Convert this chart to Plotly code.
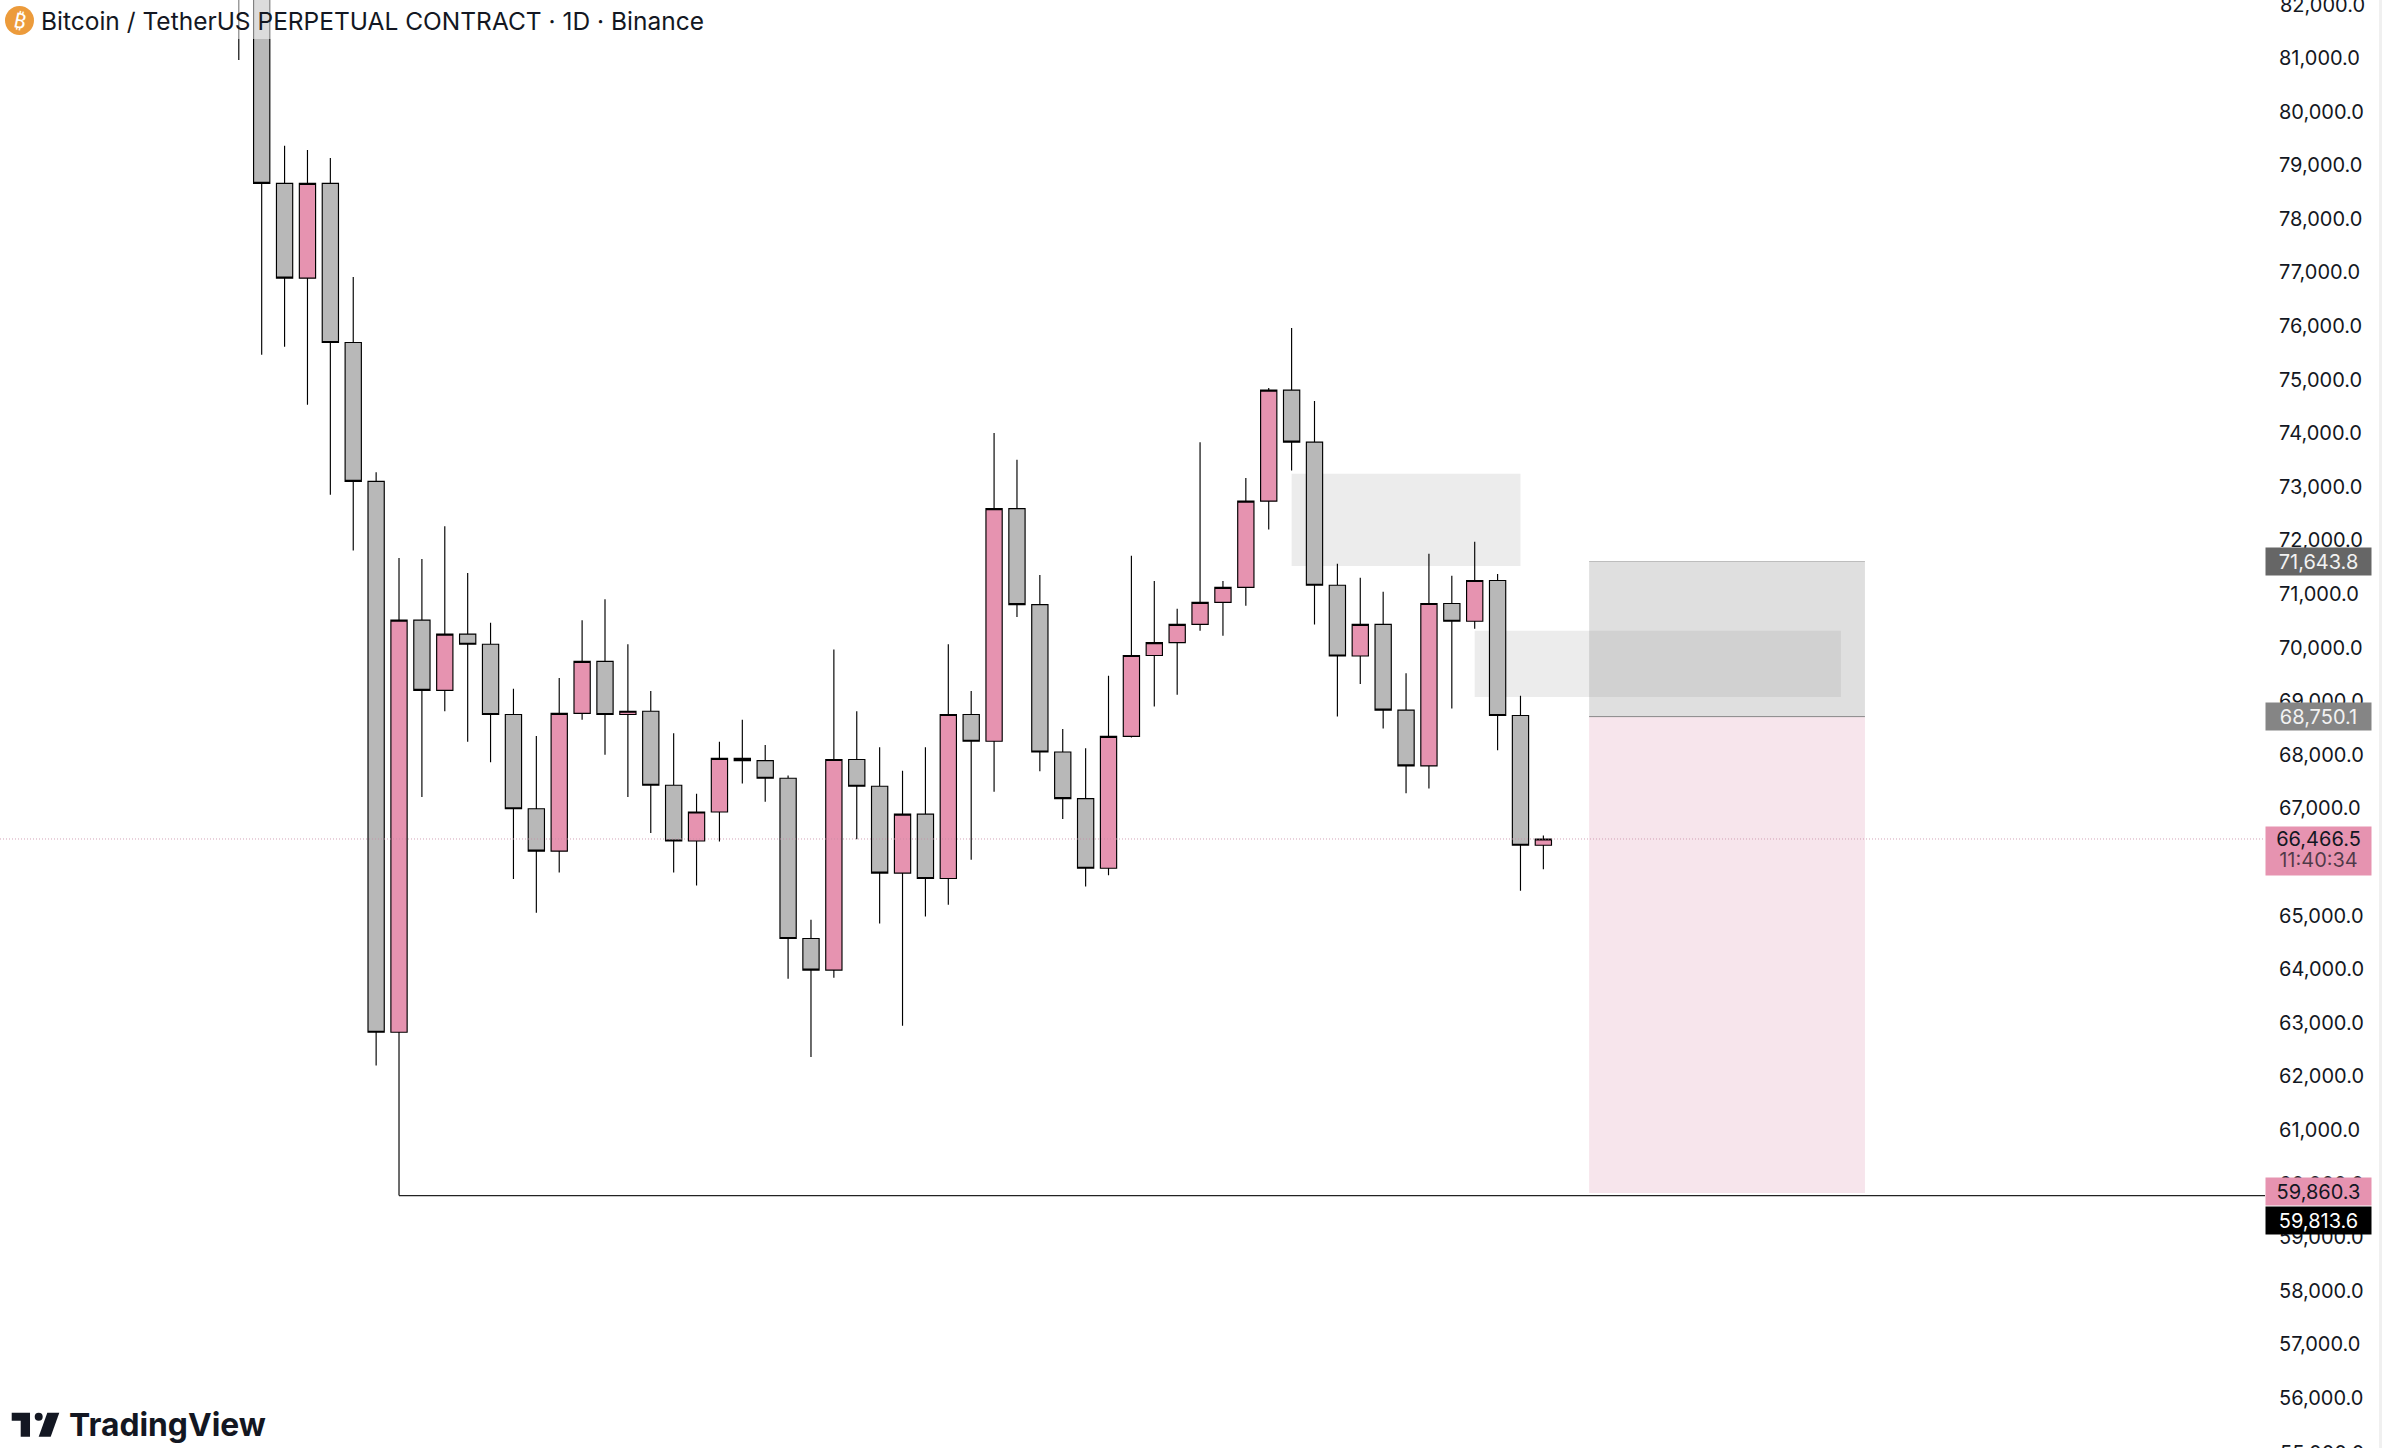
"""BTCUSDT perpetual daily candles, TradingView style screenshot."""

import plotly.graph_objects as go

W = 2382
H = 1448
AXIS_LEFT = 2265

# candles, index 0 is the one whose body is above the visible range
opens = [83600, 83200, 78700, 76930, 78700, 75730, 73140, 62860, 70550, 69240,
         70290, 70100, 68790, 67030, 66240, 68810, 69780, 68790, 68850, 67470,
         66430, 66970, 67970, 67930, 67600, 64610, 64020, 67950, 67450, 65830,
         66930, 65730, 68790, 68290, 72630, 70840, 68090, 67220, 65920, 68380,
         69890, 70130, 70470, 70880, 71160, 72770, 74840, 73870, 71200, 69880,
         70470, 68870, 67830, 70860, 70530, 71290, 68770, 66350]
highs = [84000, 83500, 79400, 79320, 79170, 76950, 73310, 71710, 71690, 72300,
         71430, 70500, 69270, 68390, 69470, 70550, 70940, 70100, 69230, 68440,
         67310, 68280, 68690, 68220, 67650, 64960, 70000, 68850, 68180, 67740,
         68180, 70100, 69230, 74040, 73540, 71390, 68520, 68160, 69510, 71750,
         71280, 70760, 73870, 71280, 73200, 74880, 76000, 74640, 71600, 71340,
         71080, 69560, 71790, 71380, 72010, 71410, 69140, 66530]
lows = [81000, 75500, 75650, 74570, 72890, 71850, 62240, 59813.6, 67250, 68850,
        68280, 67900, 65720, 65090, 65840, 68690, 68040, 67250, 66580, 65840,
        65600, 66420, 67500, 67160, 63860, 62400, 63880, 66460, 64890, 62980,
        65020, 65240, 66080, 67350, 70610, 67730, 66840, 65580, 65790, 68360,
        68940, 69160, 70350, 70260, 70820, 72240, 73340, 70470, 68750, 69360,
        68530, 67320, 67410, 68900, 70390, 68120, 65500, 65900]
closes = [83200, 78700, 76930, 78700, 75730, 73140, 62860, 70550, 69240, 70290,
          70100, 68790, 67030, 66240, 68810, 69780, 68790, 68850, 67470, 66430,
          66970, 67970, 67930, 67600, 64610, 64020, 67950, 67450, 65830, 66930,
          65730, 68790, 68290, 72630, 70840, 68090, 67220, 65920, 68380, 69890,
          70130, 70470, 70880, 71160, 72770, 74840, 73870, 71200, 69880, 70470,
          68870, 67830, 70860, 70530, 71290, 68770, 66350, 66466.5]
bars = list(range(len(opens)))

# drawings on the chart: (first bar, last bar, top price, bottom price)
zones = [(46, 56, 73280, 71560), (54, 70, 70350, 69115)]
target_bars = (59, 71.05)
target_top = 71643.8
entry = 68750.1
stop = 59860.3
last_price = 66466.5
low_ray = 59813.6
ray_start = 7

tick_values = list(range(56000, 82000, 1000))
tick_labels = [f"{v:,.1f}" for v in tick_values]

title_text = "Bitcoin / TetherUS PERPETUAL CONTRACT · 1D · Binance"
countdown = "11:40:34"

UP = "#E693B0"
DOWN = "#B8B8B8"
AXIS_FONT = dict(family="Inter", size=20, color="#131722")


# paper x runs over the plot area only, which stops at the price axis
def px_x(x):
    return x / AXIS_LEFT


def px_y(y):
    return 1 - y / H


fig = go.Figure()
fig.add_trace(
    go.Candlestick(
        x=bars,
        open=opens,
        high=highs,
        low=lows,
        close=closes,
        increasing=dict(fillcolor=UP, line=dict(color="#000000", width=1.15)),
        decreasing=dict(fillcolor=DOWN, line=dict(color="#000000", width=1.15)),
        whiskerwidth=0,
        showlegend=False,
        hoverinfo="skip",
    )
)
# the horizontal ray from the low of the big recovery candle
fig.add_trace(
    go.Scatter(
        x=[ray_start, 89],
        y=[low_ray, low_ray],
        mode="lines",
        line=dict(color="#222222", width=1.2),
        showlegend=False,
        hoverinfo="skip",
    )
)

for first, last, top, bottom in zones:
    fig.add_shape(type="rect", x0=first, x1=last, y0=bottom, y1=top, layer="below",
                  line_width=0, fillcolor="rgba(128,128,128,0.15)")
fig.add_shape(type="rect", x0=target_bars[0], x1=target_bars[1], y0=entry, y1=target_top,
              layer="below", line_width=0, fillcolor="rgba(128,128,128,0.25)")
fig.add_shape(type="rect", x0=target_bars[0], x1=target_bars[1], y0=stop, y1=entry,
              layer="below", line_width=0, fillcolor="#F7E5EC")
fig.add_shape(type="line", x0=target_bars[0], x1=target_bars[1], y0=target_top, y1=target_top,
              layer="below", line=dict(color="#bdbdbd", width=1))
fig.add_shape(type="line", x0=target_bars[0], x1=target_bars[1], y0=entry, y1=entry,
              layer="below", line=dict(color="#888888", width=1))
fig.add_shape(type="line", xref="paper", x0=0, x1=1, y0=last_price, y1=last_price,
              line=dict(color="rgba(200,140,165,0.8)", width=1, dash="1px,2px"))

# legend strip fades whatever runs behind the title
fig.add_shape(type="rect", xref="paper", yref="paper", x0=0, x1=px_x(720), y0=px_y(39), y1=1,
              line_width=0, fillcolor="rgba(255,255,255,0.5)")
fig.add_shape(type="circle", xref="paper", yref="paper", x0=px_x(5), x1=px_x(34),
              y0=px_y(35), y1=px_y(6), line_width=0, fillcolor="#EC9B3B")
fig.add_shape(type="rect", xref="paper", yref="paper", x0=px_x(2379), x1=px_x(W), y0=0, y1=1,
              line_width=0, fillcolor="#f0f0f0")

# TradingView mark
logo_paths = [
    [(11.7, 1412.7), (30, 1412.7), (30, 1436.7), (20.7, 1436.7), (20.7, 1420.7), (11.7, 1420.7)],
    [(47.3, 1412.7), (59.3, 1412.7), (50.7, 1436.7), (38.7, 1436.7)],
]
for pts in logo_paths:
    d = "M " + " L ".join(f"{px_x(a):.5f},{px_y(b):.5f}" for a, b in pts) + " Z"
    fig.add_shape(type="path", xref="paper", yref="paper", path=d, line_width=0, fillcolor="#131722")
fig.add_shape(type="circle", xref="paper", yref="paper", x0=px_x(34.7), x1=px_x(42.7),
              y0=px_y(1420.7), y1=px_y(1412.7), line_width=0, fillcolor="#131722")

fig.add_annotation(xref="paper", yref="paper", x=px_x(39), y=px_y(21), text=title_text,
                   xanchor="left", yanchor="middle", showarrow=False,
                   font=dict(family="Inter", size=24.5, color="#131722"))
fig.add_annotation(xref="paper", yref="paper", x=px_x(19.5), y=px_y(20), text="₿", textangle=12,
                   xanchor="center", yanchor="middle", showarrow=False,
                   font=dict(family="Noto Sans", size=21, color="#ffffff"))
fig.add_annotation(xref="paper", yref="paper", x=px_x(67), y=px_y(1424), text="<b>TradingView</b>",
                   xanchor="left", yanchor="middle", showarrow=False,
                   font=dict(family="Inter", size=31.8, color="#131722"))
# top and bottom ticks are cut by the page edges and the axis would drop them
fig.add_annotation(xref="paper", yref="paper", x=px_x(2278), y=px_y(1439), text="55,000.0",
                   xanchor="left", yanchor="top", showarrow=False, font=AXIS_FONT)
fig.add_annotation(xref="paper", yref="paper", x=px_x(2278), y=px_y(4.5), text="82,000.0",
                   xanchor="left", yanchor="middle", showarrow=False, font=AXIS_FONT)


def price_label(price, text, bg, color, yshift=0, height=27):
    fig.add_annotation(xref="paper", yref="y", x=1, y=price, text=text,
                       xanchor="left", yanchor="middle", yshift=yshift, showarrow=False,
                       width=105, height=height, align="center", valign="middle",
                       borderpad=0, bgcolor=bg, font=dict(family="Inter", size=20, color=color))


price_label(target_top, f"{target_top:,.1f}", "#666666", "#f2f2f2")
price_label(entry, f"{entry:,.1f}", "#858585", "#f2f2f2")
price_label(stop, f"{stop:,.1f}", UP, "#131722", yshift=1.5)
price_label(low_ray, f"{low_ray:,.1f}", "#000000", "#ffffff", yshift=-25)
# last price box is taller, the countdown goes on its lower half
fig.add_annotation(xref="paper", yref="y", x=1, y=last_price, text=f"{last_price:,.1f}",
                   xanchor="left", yanchor="top", yshift=13, showarrow=False,
                   width=105, height=48, align="center", valign="top",
                   borderpad=0, bgcolor=UP, font=dict(family="Inter", size=20, color="#131722"))
fig.add_annotation(xref="paper", yref="y", x=1, y=last_price, text=countdown,
                   xanchor="left", yanchor="middle", yshift=-21, showarrow=False,
                   width=105, height=24, align="center", valign="middle",
                   borderpad=0, font=dict(family="Inter", size=20, color="rgba(19,23,34,0.72)"))

fig.update_layout(
    width=W,
    height=H,
    margin=dict(l=0, r=W - AXIS_LEFT, t=0, b=0, autoexpand=False),
    paper_bgcolor="#ffffff",
    plot_bgcolor="#ffffff",
    showlegend=False,
    hovermode=False,
    boxgap=0.29,
    boxgroupgap=0,
    font=dict(family="Inter"),
)
fig.update_xaxes(range=[-10.434, 88.53], visible=False, rangeslider_visible=False, fixedrange=True)
fig.update_yaxes(
    range=[55104, 82120],
    side="right",
    tickmode="array",
    tickvals=tick_values,
    ticktext=tick_labels,
    tickfont=AXIS_FONT,
    ticks="",
    ticklabelstandoff=13,
    ticklabelshift=-2,
    showgrid=False,
    zeroline=False,
    showline=False,
    fixedrange=True,
)

# the page's default body margin would push the chart 8px in
fig.write_html("out.html", config={"displayModeBar": False},
               post_script="document.body.style.margin = '0';")
